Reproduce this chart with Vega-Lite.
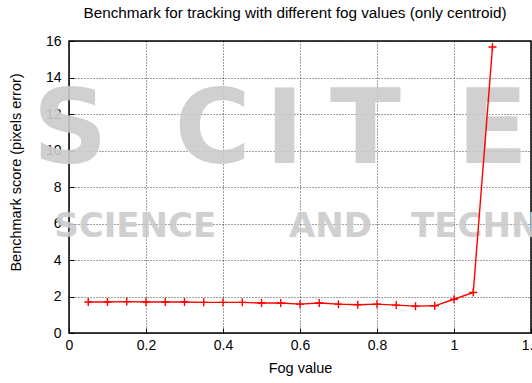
{
  "$schema": "https://vega.github.io/schema/vega-lite/v6.json",
  "width": 462,
  "height": 292,
  "autosize": {"type": "none"},
  "padding": {"left": 69, "top": 41, "right": 1, "bottom": 50},
  "background": "#ffffff",
  "title": {
    "text": "Benchmark for tracking with different fog values (only centroid)",
    "font": "Liberation Sans",
    "fontSize": 15.3,
    "fontWeight": "normal",
    "color": "#000000",
    "anchor": "middle",
    "frame": "group",
    "offset": 13,
    "dx": -5
  },
  "config": {
    "view": {"stroke": "#000000", "strokeWidth": 1.5},
    "axis": {
      "zindex": 1,
      "labelFont": "Liberation Sans",
      "labelFontSize": 14,
      "labelColor": "#000000",
      "titleFont": "Liberation Sans",
      "titleFontSize": 14.5,
      "titleFontWeight": "normal",
      "titleColor": "#000000",
      "domain": false,
      "ticks": true,
      "tickSize": -5,
      "tickColor": "#000000",
      "tickWidth": 1,
      "grid": true,
      "gridColor": "#000000",
      "gridDash": [1, 2],
      "gridOpacity": 0.75,
      "gridWidth": 1
    }
  },
  "datasets": {
    "scores": [
      {"fog": 0.05, "score": 1.70},
      {"fog": 0.10, "score": 1.70},
      {"fog": 0.15, "score": 1.72},
      {"fog": 0.20, "score": 1.70},
      {"fog": 0.25, "score": 1.70},
      {"fog": 0.30, "score": 1.70},
      {"fog": 0.35, "score": 1.68},
      {"fog": 0.40, "score": 1.68},
      {"fog": 0.45, "score": 1.68},
      {"fog": 0.50, "score": 1.64},
      {"fog": 0.55, "score": 1.64},
      {"fog": 0.60, "score": 1.58},
      {"fog": 0.65, "score": 1.64},
      {"fog": 0.70, "score": 1.58},
      {"fog": 0.75, "score": 1.55},
      {"fog": 0.80, "score": 1.58},
      {"fog": 0.85, "score": 1.53},
      {"fog": 0.90, "score": 1.47},
      {"fog": 0.95, "score": 1.49},
      {"fog": 1.00, "score": 1.85},
      {"fog": 1.05, "score": 2.22},
      {"fog": 1.10, "score": 15.67}
    ],
    "stamp": [
      {"word": "S", "fog": 0.003, "score": 9.3},
      {"word": "C", "fog": 0.373, "score": 9.3},
      {"word": "I", "fog": 0.56, "score": 9.3},
      {"word": "T", "fog": 0.77, "score": 9.3},
      {"word": "E", "fog": 1.10, "score": 9.3}
    ],
    "stampSub": [
      {"word": "SCIENCE", "fog": 0.172, "score": 5.26},
      {"word": "AND", "fog": 0.679, "score": 5.26},
      {"word": "TECHNOLOGY", "fog": 1.224, "score": 5.26}
    ]
  },
  "encoding": {
    "x": {
      "field": "fog",
      "type": "quantitative",
      "title": "Fog value",
      "scale": {"domain": [0, 1.2], "nice": false, "zero": false},
      "axis": {"values": [0, 0.2, 0.4, 0.6, 0.8, 1, 1.2], "format": "~g", "labelPadding": 10, "titlePadding": 9, "labelFlush": false, "labelOverlap": false}
    },
    "y": {
      "field": "score",
      "type": "quantitative",
      "title": "Benchmark score (pixels error)",
      "scale": {"domain": [0, 16], "nice": false},
      "axis": {"values": [0, 2, 4, 6, 8, 10, 12, 14, 16], "format": "~g", "labelPadding": 13, "titlePadding": 22, "titleY": 131, "labelFlush": false}
    }
  },
  "layer": [
    {
      "data": {"name": "stamp"},
      "mark": {"type": "text", "font": "DejaVu Sans", "fontWeight": "bold", "fontSize": 104, "baseline": "alphabetic", "align": "center", "color": "#cccccc", "opacity": 0.9, "clip": false},
      "encoding": {"text": {"field": "word"}}
    },
    {
      "data": {"name": "stampSub"},
      "mark": {"type": "text", "font": "DejaVu Sans", "fontWeight": "bold", "fontSize": 34, "baseline": "alphabetic", "align": "center", "color": "#cccccc", "opacity": 0.9, "clip": false},
      "encoding": {"text": {"field": "word"}}
    },
    {
      "data": {"name": "scores"},
      "mark": {"type": "line", "color": "#ff0000", "strokeWidth": 1.4}
    },
    {
      "data": {"name": "scores"},
      "mark": {"type": "point", "shape": "M-1,0H1M0,-1V1", "size": 64, "filled": false, "color": "#ff0000", "strokeWidth": 1.4, "opacity": 1}
    }
  ]
}
